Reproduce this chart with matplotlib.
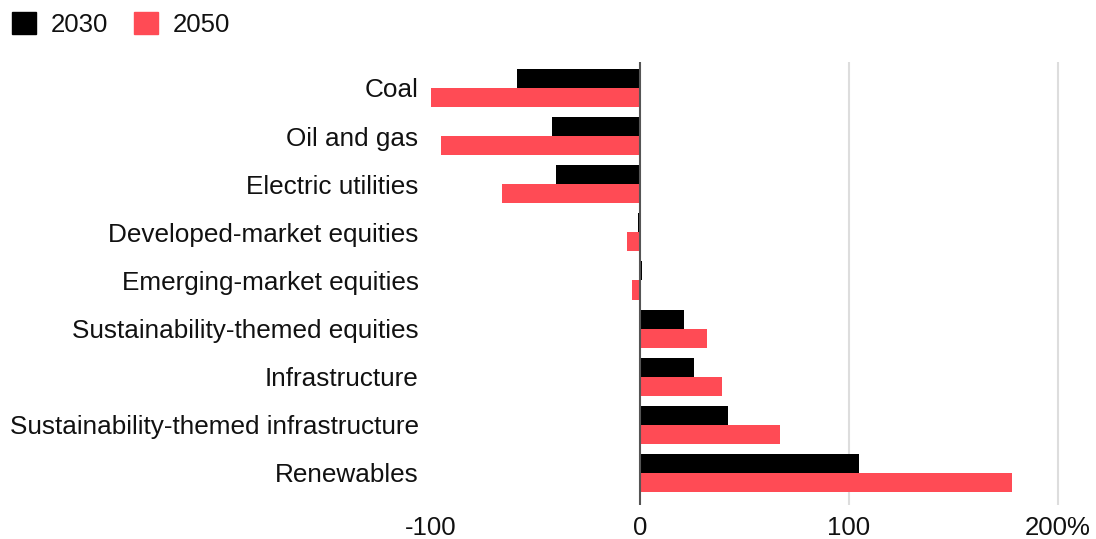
import numpy as np
import matplotlib.pyplot as plt
from matplotlib.patches import Patch

plt.rcParams['font.family'] = ['Liberation Sans', 'DejaVu Sans']

categories = ["Coal", "Oil and gas", "Electric utilities",
              "Developed-market equities", "Emerging-market equities",
              "Sustainability-themed equities", "Infrastructure",
              "Sustainability-themed infrastructure", "Renewables"]
v2030 = [-59, -42, -40, -1, 1, 21, 26, 42, 105]
v2050 = [-100, -95, -66, -6, -4, 32, 39, 67, 178]
xticks = [-100, 0, 100, 200]
xticklabels = ["-100", "0", "100", "200%"]

c2030 = "#000000"
c2050 = "#ff4b55"
tc = "#111111"

fig = plt.figure(figsize=(10.96, 5.39), dpi=100)
ax = fig.add_axes([431 / 1096, 1 - 505 / 539, (1096 - 431) / 1096, (505 - 62) / 539])

y = np.arange(len(categories))
h = 0.395
ax.barh(y - h / 2, v2030, height=h, color=c2030, zorder=3)
ax.barh(y + h / 2, v2050, height=h, color=c2050, zorder=3)

ax.set_xlim(-100, (1096 - 640) / 2.09)
ax.set_ylim(8.665, -0.54)
ax.set_yticks(y)
ax.set_yticklabels(categories, fontsize=18.8, color=tc)
ax.set_xticks(xticks)
ax.set_xticklabels(xticklabels, fontsize=18.5, color=tc)
ax.tick_params(axis="y", length=0, pad=9)
ax.tick_params(axis="x", length=0, pad=8)

for t in [100, 200]:
    ax.axvline(t, color="#dddddd", lw=1.5, zorder=1)
ax.axvline(0, color="#555555", lw=1.5, zorder=4)
for s in ax.spines.values():
    s.set_visible(False)

handles = [Patch(color=c2030, label="2030"), Patch(color=c2050, label="2050")]
fig.legend(handles=handles, loc="upper left", bbox_to_anchor=(12 / 1096, 1 - 12 / 539), ncol=2,
           frameon=False, fontsize=18.5, handlelength=0.93, handleheight=0.93,
           handletextpad=0.58, columnspacing=1.0, borderpad=0, borderaxespad=0,
           labelcolor=tc)

fig.savefig("out.png", dpi=100)
